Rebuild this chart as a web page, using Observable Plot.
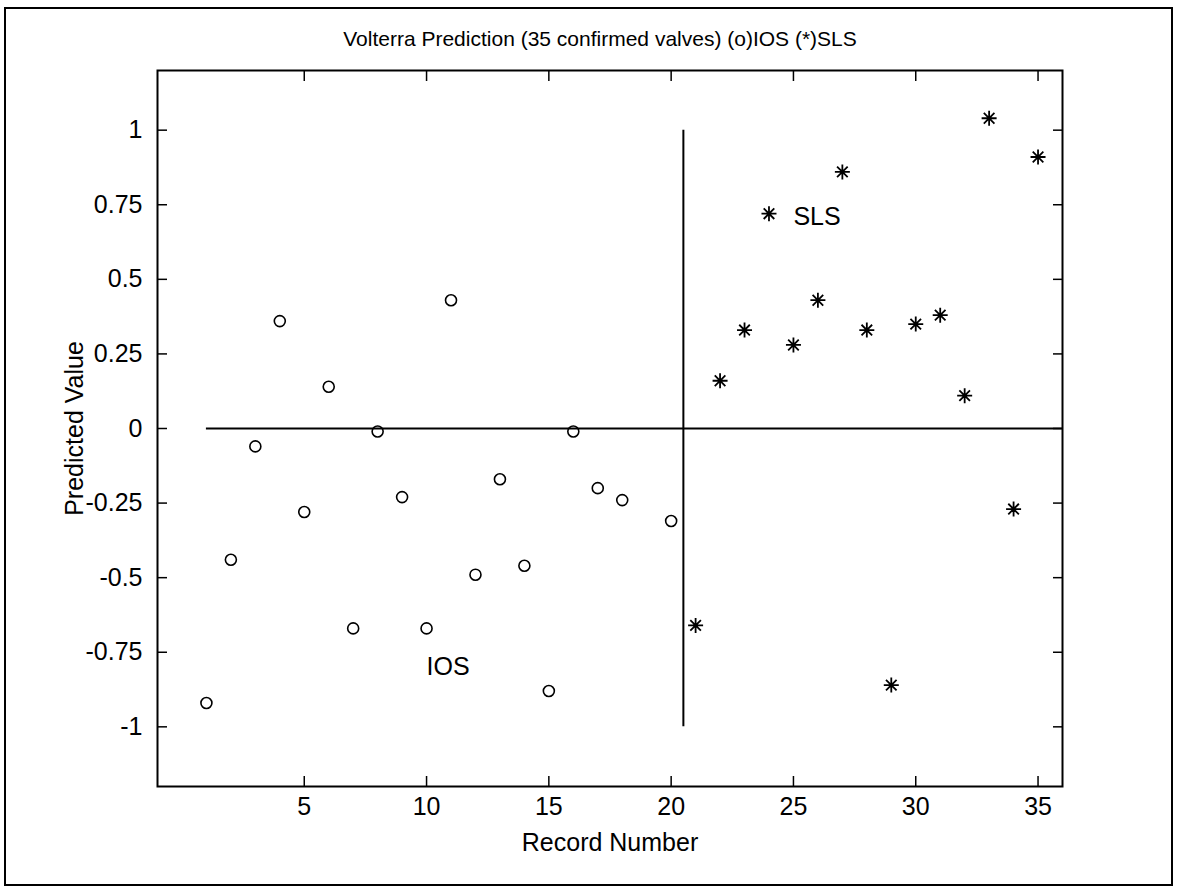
<!DOCTYPE html>
<html>
<head>
<meta charset="utf-8">
<script src="https://cdn.jsdelivr.net/npm/d3@7"></script>
<script src="https://cdn.jsdelivr.net/npm/@observablehq/plot@0.6"></script>
<style>
html, body { margin: 0; padding: 0; background: #fff; }
#wrap { position: relative; width: 1180px; height: 892px; overflow: hidden; }
#border { position: absolute; left: 4px; top: 7px; width: 1169px; height: 879px; border: 2px solid #000; box-sizing: border-box; }
#chart { position: absolute; left: 0; top: 0; }
</style>
</head>
<body>
<div id="wrap"><div id="border"></div><div id="chart"></div></div>
<script>
// ---- data ----
const titleText = "Volterra Prediction (35 confirmed valves) (o)IOS (*)SLS";
const xLabel = "Record Number";
const yLabel = "Predicted Value";

const iosRecords = [1, 2, 3, 4, 5, 6, 7, 8, 9, 10, 11, 12, 13, 14, 15, 16, 17, 18, 20];
const iosValues  = [-0.92, -0.44, -0.06, 0.36, -0.28, 0.14, -0.67, -0.01, -0.23, -0.67, 0.43, -0.49, -0.17, -0.46, -0.88, -0.01, -0.20, -0.24, -0.31];

const slsRecords = [21, 22, 23, 24, 25, 26, 27, 28, 29, 30, 31, 32, 33, 34, 35];
const slsValues  = [-0.66, 0.16, 0.33, 0.72, 0.28, 0.43, 0.86, 0.33, -0.86, 0.35, 0.38, 0.11, 1.04, -0.27, 0.91];

const xTicks = [5, 10, 15, 20, 25, 30, 35];
const xTickLabels = ["5", "10", "15", "20", "25", "30", "35"];
const yTicks = [-1, -0.75, -0.5, -0.25, 0, 0.25, 0.5, 0.75, 1];
const yTickLabels = ["-1", "-0.75", "-0.5", "-0.25", "0", "0.25", "0.5", "0.75", "1"];

const xDomain = [-1, 36];
const yDomain = [-1.2, 1.2];

const zeroLine = [{x1: 1, x2: 36, y: 0}];
const divider = [{x: 20.5, y1: -1, y2: 1}];

const labelNames = ["SLS", "IOS"];
const labelX = [25, 10];
const labelY = [0.71, -0.8];

// ---- tables built from the arrays ----
const ios = iosRecords.map((r, i) => ({record: r, value: iosValues[i]}));
const sls = slsRecords.map((r, i) => ({record: r, value: slsValues[i]}));
const labels = labelNames.map((t, i) => ({text: t, x: labelX[i], y: labelY[i]}));

// MATLAB-like 8-spoke asterisk marker
const asterisk8 = {
  draw(context, size) {
    const r = Math.sqrt(size / Math.PI);
    const d = r * Math.SQRT1_2;
    context.moveTo(-r, 0); context.lineTo(r, 0);
    context.moveTo(0, -r); context.lineTo(0, r);
    context.moveTo(-d, -d); context.lineTo(d, d);
    context.moveTo(-d, d); context.lineTo(d, -d);
  }
};

const font = "'Liberation Sans', Arial, Helvetica, sans-serif";

const chart = Plot.plot({
  width: 1180,
  height: 892,
  marginLeft: 157,
  marginRight: 118,
  marginTop: 70,
  marginBottom: 106,
  x: {domain: xDomain},
  y: {domain: yDomain},
  style: {fontFamily: font, fontSize: "25px", color: "#000", background: "transparent", overflow: "visible"},
  marks: [
    Plot.frame({stroke: "#000", strokeWidth: 2}),
    Plot.axisX({anchor: "bottom", ticks: xTicks, tickSize: -10, tickPadding: 21, strokeWidth: 1.5,
      tickFormat: d => xTickLabels[xTicks.indexOf(d)],
      label: xLabel, labelAnchor: "center", labelOffset: 64, labelArrow: "none", fontSize: 25}),
    Plot.axisX({anchor: "top", ticks: xTicks, tickSize: -10, strokeWidth: 1.5, fill: "none", label: null}),
    Plot.axisY({anchor: "left", ticks: yTicks, tickSize: -10, tickPadding: 25, strokeWidth: 1.5,
      tickFormat: d => yTickLabels[yTicks.indexOf(d)],
      label: yLabel, labelAnchor: "center", labelOffset: 92, labelArrow: "none", fontSize: 25}),
    Plot.axisY({anchor: "right", ticks: yTicks, tickSize: -10, strokeWidth: 1.5, fill: "none", label: null}),
    Plot.ruleY(zeroLine, {x1: "x1", x2: "x2", y: "y", stroke: "#000", strokeWidth: 2}),
    Plot.ruleX(divider, {x: "x", y1: "y1", y2: "y2", stroke: "#000", strokeWidth: 2}),
    Plot.dot(ios, {x: "record", y: "value", r: 5.5, stroke: "#000", fill: "none", strokeWidth: 1.6}),
    Plot.dot(sls, {x: "record", y: "value", r: 7.5, symbol: asterisk8, stroke: "#000", fill: "none", strokeWidth: 1.8}),
    Plot.text(labels, {x: "x", y: "y", text: "text", textAnchor: "start", fontSize: 25, fill: "#000"}),
    Plot.text([titleText], {frameAnchor: "top", dy: -31, dx: -10, fontSize: 21, fill: "#000", lineAnchor: "middle"})
  ]
});
document.getElementById("chart").appendChild(chart);
</script>
</body>
</html>
